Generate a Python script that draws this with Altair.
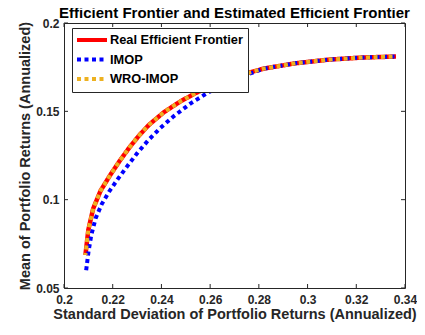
import altair as alt
import pandas as pd

# ---- data ----
series_names = ["Real Efficient Frontier", "IMOP", "WRO-IMOP"]

real_sd = [0.2088, 0.2100, 0.2120, 0.2150, 0.2190, 0.2230, 0.2270, 0.2310, 0.2350,
           0.2410, 0.2480, 0.2550, 0.2630, 0.2720, 0.2820, 0.2950, 0.3090, 0.3230, 0.3363]
real_mean = [0.0687, 0.0830, 0.0950, 0.1050, 0.1140, 0.1222, 0.1298, 0.1366, 0.1425,
             0.1495, 0.1558, 0.1610, 0.1657, 0.1703, 0.1742, 0.1772, 0.1793, 0.1805, 0.1810]

imop_sd = [0.2091, 0.2100, 0.2112, 0.2130, 0.2155, 0.2185, 0.2220, 0.2260, 0.2300, 0.2345,
           0.2395, 0.2450, 0.2520, 0.2590, 0.2660, 0.2740, 0.2820, 0.2950, 0.3090, 0.3230, 0.3363]
imop_mean = [0.0600, 0.0700, 0.0800, 0.0895, 0.0975, 0.1045, 0.1115, 0.1190, 0.1262, 0.1335,
             0.1405, 0.1472, 0.1545, 0.1605, 0.1655, 0.1702, 0.1742, 0.1772, 0.1793, 0.1805, 0.1810]

wro_sd = [0.2088, 0.2100, 0.2120, 0.2150, 0.2190, 0.2230, 0.2270, 0.2310, 0.2350,
          0.2410, 0.2480, 0.2550, 0.2630, 0.2720, 0.2820, 0.2950, 0.3090, 0.3230, 0.3363]
wro_mean = [0.0687, 0.0830, 0.0950, 0.1050, 0.1140, 0.1222, 0.1298, 0.1366, 0.1425,
            0.1495, 0.1558, 0.1610, 0.1657, 0.1703, 0.1742, 0.1772, 0.1793, 0.1805, 0.1810]

x_ticks = [0.2, 0.22, 0.24, 0.26, 0.28, 0.3, 0.32, 0.34]
y_ticks = [0.05, 0.1, 0.15, 0.2]

series_colors = ["#FF0000", "#0000FF", "#EDB120"]
series_dash = [[1, 0], [4, 3.5], [4, 3.5]]

# ---- build table ----
rows = []
for name, xs, ys in zip(series_names, [real_sd, imop_sd, wro_sd], [real_mean, imop_mean, wro_mean]):
    for i, (a, b) in enumerate(zip(xs, ys)):
        rows.append({"series": name, "sd": a, "mean": b, "order": i})
df = pd.DataFrame(rows)

xt_df = pd.DataFrame({"sd": x_ticks})
yt_df = pd.DataFrame({"mean": y_ticks})

W, H = 341, 265
FONT = "Liberation Sans"
INK = "#262626"
TL = 4  # inward tick length

x_title = "Standard Deviation of Portfolio Returns (Annualized)"
y_title = "Mean of Portfolio Returns (Annualized)"

x_scale = alt.Scale(domain=[0.2, 0.34], nice=False, zero=False)
y_scale = alt.Scale(domain=[0.05, 0.2], nice=False, zero=False)

x_axis = alt.Axis(values=x_ticks, format="~g", labelPadding=6, titlePadding=2, labelFlush=False)
y_axis = alt.Axis(values=y_ticks, format="~g", labelPadding=5, titlePadding=3, labelFlush=False)

X = alt.X("sd:Q", scale=x_scale, axis=x_axis, title=x_title)
Y = alt.Y("mean:Q", scale=y_scale, axis=y_axis, title=y_title)

legend = alt.Legend(
    title=None, orient="none", legendX=8, legendY=5,
    strokeColor=INK, fillColor="white", padding=5, rowPadding=3.5,
    symbolType="M-3,0H3", symbolSize=100, symbolStrokeWidth=4,
    symbolOffset=8, labelOffset=11,
    labelFont=FONT, labelFontSize=12.8, labelFontWeight="bold", labelColor="black",
    cornerRadius=0,
)

color = alt.Color("series:N", scale=alt.Scale(domain=series_names, range=series_colors),
                  legend=legend, sort=series_names)
dash = alt.StrokeDash("series:N", scale=alt.Scale(domain=series_names, range=series_dash),
                      legend=legend, sort=series_names)

base = alt.Chart(df).encode(x=X, y=Y, color=color, strokeDash=dash, order="order:Q")

real_line = base.transform_filter(alt.datum.series == series_names[0]).mark_line(strokeWidth=4.5)
imop_line = base.transform_filter(alt.datum.series == series_names[1]).mark_line(strokeWidth=4, strokeCap="butt")
wro_line = base.transform_filter(alt.datum.series == series_names[2]).mark_line(
    strokeWidth=4, strokeCap="butt", strokeDashOffset=2)

# inward tick marks on all four sides
xt_bottom = alt.Chart(xt_df).mark_rule(color=INK, strokeWidth=1).encode(
    x=X, y=alt.value(H), y2=alt.value(H - TL))
xt_top = alt.Chart(xt_df).mark_rule(color=INK, strokeWidth=1).encode(
    x=X, y=alt.value(0), y2=alt.value(TL))
yt_left = alt.Chart(yt_df).mark_rule(color=INK, strokeWidth=1).encode(
    y=Y, x=alt.value(0), x2=alt.value(TL))
yt_right = alt.Chart(yt_df).mark_rule(color=INK, strokeWidth=1).encode(
    y=Y, x=alt.value(W), x2=alt.value(W - TL))

chart = alt.layer(
    xt_bottom, xt_top, yt_left, yt_right, real_line, imop_line, wro_line
).properties(
    width=W, height=H,
    padding={"left": 56, "top": 15, "right": 12, "bottom": 39},
    autosize=alt.AutoSizeParams(type="none"),
    title=alt.TitleParams(
        text="Efficient Frontier and Estimated Efficient Frontier",
        font=FONT, fontSize=15, fontWeight="bold", color="black",
        offset=3, baseline="bottom", anchor="middle", frame="group", dy=22,
    ),
).configure_view(
    stroke=INK, strokeWidth=1
).configure_axis(
    domain=False, ticks=False, grid=False,
    labelFont=FONT, labelFontSize=12, labelFontWeight="bold", labelColor=INK,
    titleFont=FONT, titleFontSize=14.5, titleFontWeight="bold", titleColor=INK,
)

chart.save("out.html", embed_options={"renderer": "svg", "actions": False})
